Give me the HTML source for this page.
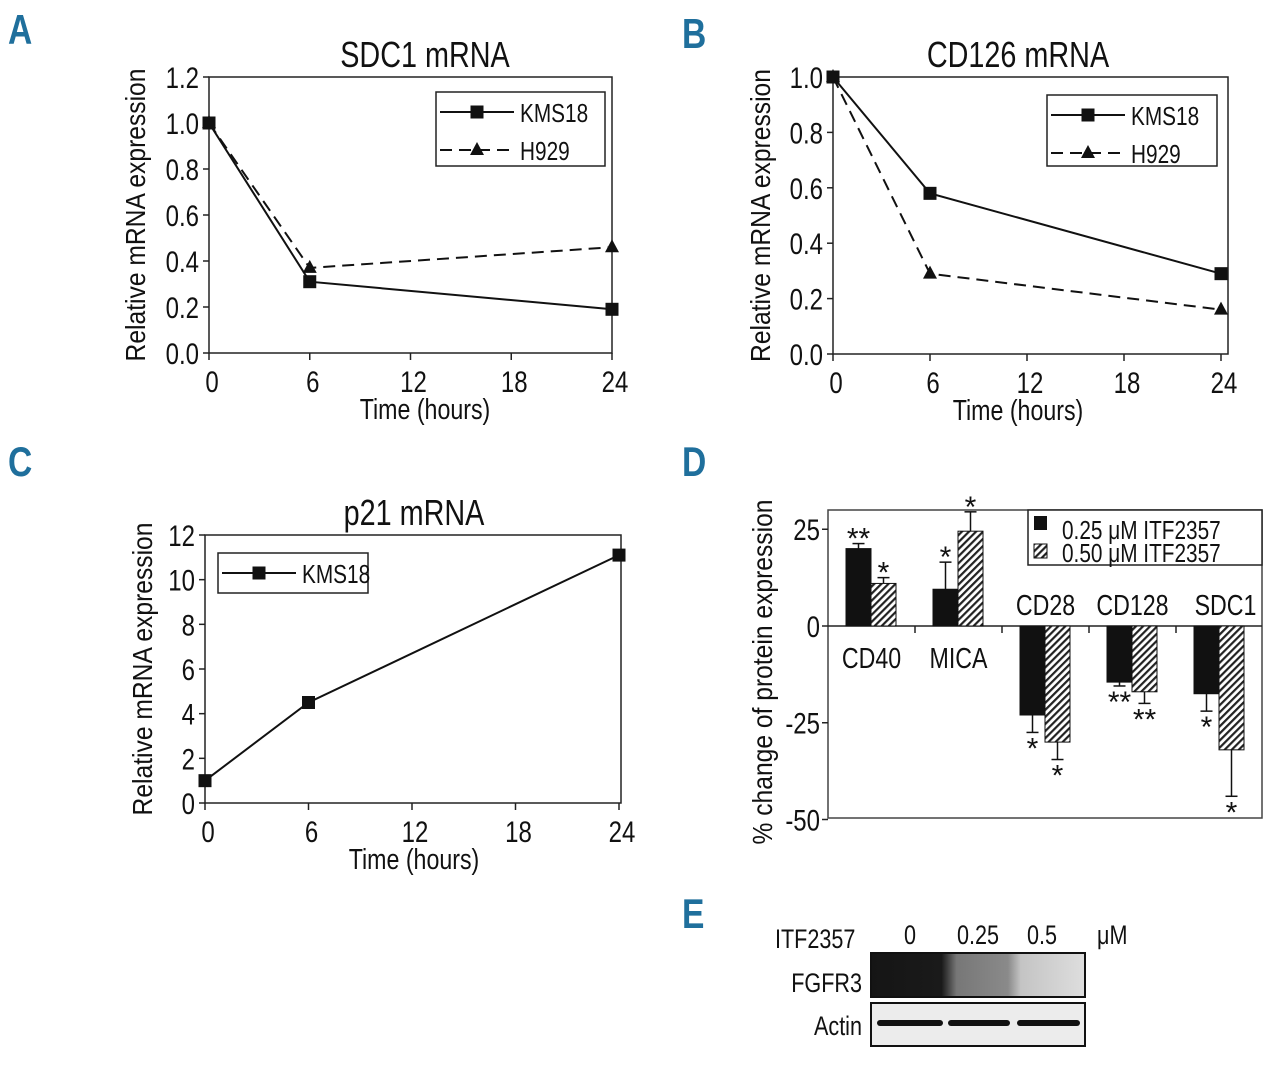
<!DOCTYPE html>
<html><head><meta charset="utf-8">
<style>
html,body{margin:0;padding:0;background:#fff;}
svg{display:block;font-family:"Liberation Sans",sans-serif;}
text{fill:#111;}
.lbl{fill:#1f6f9c;font-weight:bold;}
</style></head>
<body>
<svg id="fig" width="1280" height="1065" viewBox="0 0 1280 1065" xmlns="http://www.w3.org/2000/svg">
<defs>
<pattern id="hatch" patternUnits="userSpaceOnUse" width="5" height="5" patternTransform="rotate(45)">
<rect width="5" height="5" fill="#fff"/><rect width="2.2" height="5" fill="#222"/>
</pattern>
<linearGradient id="smear" x1="0" x2="1" y1="0" y2="0">
<stop offset="0" stop-color="#151515"/><stop offset="0.33" stop-color="#1a1a1a"/><stop offset="0.4" stop-color="#777"/><stop offset="0.64" stop-color="#8a8a8a"/><stop offset="0.7" stop-color="#c4c4c4"/><stop offset="1" stop-color="#dedede"/>
</linearGradient>
</defs>
<text class="lbl" x="8" y="44" font-size="42">A</text>
<text class="lbl" x="682" y="48" font-size="42">B</text>
<text class="lbl" x="8" y="476" font-size="42">C</text>
<text class="lbl" x="682" y="476" font-size="42">D</text>
<text class="lbl" x="682" y="928" font-size="42">E</text>
<g id="plots"></g>
<g>
<text x="775" y="948" font-size="27">ITF2357</text>
<text x="910" y="944" font-size="27" text-anchor="middle">0</text>
<text x="978" y="944" font-size="27" text-anchor="middle">0.25</text>
<text x="1042" y="944" font-size="27" text-anchor="middle">0.5</text>
<text x="1097" y="944" font-size="27">μM</text>
<text x="862" y="992" font-size="27" text-anchor="end">FGFR3</text>
<text x="862" y="1035" font-size="27" text-anchor="end">Actin</text>
<rect x="871" y="953" width="214" height="44" fill="url(#smear)" stroke="#111" stroke-width="2"/>
<rect x="871" y="1003" width="214" height="43" fill="#ececec" stroke="#111" stroke-width="2"/>
<rect x="877" y="1020" width="66" height="6" rx="3" fill="#111"/>
<rect x="948" y="1020" width="62" height="6" rx="3" fill="#111"/>
<rect x="1017" y="1020" width="63" height="6" rx="3" fill="#111"/>
</g>
</svg>
<script>
// ---- data ----
const timePoints = [0, 6, 24];
const xTicks = [0, 6, 12, 18, 24];
const sdc1Kms18 = [1.0, 0.31, 0.19];
const sdc1H929 = [1.0, 0.37, 0.46];
const cd126Kms18 = [1.0, 0.58, 0.29];
const cd126H929 = [1.0, 0.29, 0.16];
const p21Kms18 = [1.0, 4.5, 11.1];
const yTicksAB = ["0.0","0.2","0.4","0.6","0.8","1.0","1.2"];
const yTicksB = ["0.0","0.2","0.4","0.6","0.8","1.0"];
const yTicksC = [0,2,4,6,8,10,12];
const proteinCats = ["CD40","MICA","CD28","CD128","SDC1"];
const dose025 = [20, 9.5, -23, -14.5, -17.5];
const dose025Err = [1.3, 7, 4.5, 1, 4.5];
const dose050 = [11, 24.5, -30, -17, -32];
const dose050Err = [1.5, 5, 4.5, 3, 12];
const sig025 = ["**","*","*","**","*"];
const sig050 = ["*","*","*","**","*"];
const yTicksD = [25, 0, -25, -50];

const NS="http://www.w3.org/2000/svg";
const root=document.getElementById('plots');
function mk(tag,attrs,parent){const e=document.createElementNS(NS,tag);for(const k in attrs)e.setAttribute(k,attrs[k]);(parent||root).appendChild(e);return e;}
function txt(x,y,s,size,anchor,parent,rot){const t=mk('text',{x:x,y:y,'font-size':size,'text-anchor':anchor||'start'},parent);if(rot)t.setAttribute('data-rot','1');t.textContent=s;return t;}

function linePanel(cfg){
  const g=mk('g',{});
  
  
  const xs=v=>cfg.x0+(v-0)/24*(cfg.x1-cfg.x0);
  const ys=v=>cfg.y0-(v-cfg.ymin)/(cfg.ymax-cfg.ymin)*(cfg.y0-cfg.yTop);
  const frame=mk('rect',{x:cfg.x0,y:cfg.boxTop,width:cfg.boxRight-cfg.x0,height:cfg.y0-cfg.boxTop,fill:'none',stroke:'#222','stroke-width':1.5},g);
  
  
  const t=txt(cfg.titleX,cfg.boxTop-10,cfg.title,36,'middle',g);
  
  
  cfg.yTicks.forEach(v=>{
    const y=ys(+v);
    mk('line',{x1:cfg.x0-6,x2:cfg.x0,y1:y,y2:y,stroke:'#222','stroke-width':1.5},g);
    const tl=txt(cfg.x0-10,y+11,String(v),30,'end',g);
    
    
  });
  xTicks.forEach(v=>{
    const x=xs(v);
    mk('line',{x1:x,x2:x,y1:cfg.y0,y2:cfg.y0+7,stroke:'#222','stroke-width':1.5},g);
    const tl=txt(x+3,cfg.y0+39,String(v),30,'middle',g);
    
    
  });
  const xt=txt(cfg.titleX,cfg.y0+66,'Time (hours)',29,'middle',g);
  
  
  const yt=txt(cfg.yTitleX,(cfg.boxTop+cfg.y0)/2,'Relative mRNA expression',28,'middle',g,true);
  
  
  cfg.series.forEach(s=>{
    const pts=timePoints.map((t,i)=>xs(t)+','+ys(s.vals[i])).join(' ');
    const pl=mk('polyline',{points:pts,fill:'none',stroke:'#111','stroke-width':2,'stroke-dasharray':s.dash?'12,7':'none'},g);
    
    
    timePoints.forEach((t,i)=>{
      const x=xs(t),y=ys(s.vals[i]);
      let m;
      if(s.marker==='sq') m=mk('rect',{x:x-6.5,y:y-6.5,width:13,height:13,fill:'#111'},g);
      else m=mk('polygon',{points:`${x},${y-8} ${x-7},${y+5} ${x+7},${y+5}`,fill:'#111'},g);
      
      
    });
  });
  const L=cfg.legend;
  const lb=mk('rect',{x:L.x,y:L.y,width:L.w,height:L.h,fill:'#fff',stroke:'#222','stroke-width':1.5},g);
  
  
  cfg.series.forEach((s,i)=>{
    const y=L.y+20+i*38;
    mk('line',{x1:L.x+4,x2:L.x+78,y1:y,y2:y,stroke:'#111','stroke-width':2,'stroke-dasharray':s.dash?'12,7':'none'},g);
    const cx=L.x+41;
    if(s.marker==='sq') mk('rect',{x:cx-6.5,y:y-6.5,width:13,height:13,fill:'#111'},g);
    else mk('polygon',{points:`${cx},${y-8} ${cx-7},${y+5} ${cx+7},${y+5}`,fill:'#111'},g);
    const le=txt(L.x+84,y+10,s.label,26,'start',g);
    
    
  });
}

linePanel({name:'panel-a-sdc1',title:'SDC1 mRNA',titleX:425,x0:209,x1:612,boxRight:612,y0:353,yTop:77,boxTop:77,ymin:0,ymax:1.2,yTicks:yTicksAB,yTitleX:145,
  series:[{id:'kms18',vals:sdc1Kms18,marker:'sq',dash:false,label:'KMS18'},{id:'h929',vals:sdc1H929,marker:'tri',dash:true,label:'H929'}],
  legend:{x:436,y:92,w:169,h:74}});
linePanel({name:'panel-b-cd126',title:'CD126 mRNA',titleX:1018,x0:833,x1:1221,boxRight:1228,y0:354,yTop:77,boxTop:77,ymin:0,ymax:1.0,yTicks:yTicksB,yTitleX:770,
  series:[{id:'kms18',vals:cd126Kms18,marker:'sq',dash:false,label:'KMS18'},{id:'h929',vals:cd126H929,marker:'tri',dash:true,label:'H929'}],
  legend:{x:1047,y:95,w:170,h:71}});
linePanel({name:'panel-c-p21',title:'p21 mRNA',titleX:414,x0:205,x1:619,boxRight:621,y0:803,yTop:535,boxTop:535,ymin:0,ymax:12,yTicks:yTicksC,yTitleX:152,
  series:[{id:'kms18',vals:p21Kms18,marker:'sq',dash:false,label:'KMS18'}],
  legend:{x:218,y:553,w:150,h:40}});

(function(){
  const g=mk('g',{});
  
  
  const x0=828,x1=1262,top=510,bot=818;
  const ys=v=>626-v*3.87;
  const gw=87;
  const fr=mk('rect',{x:x0,y:top,width:x1-x0,height:bot-top,fill:'none',stroke:'#444','stroke-width':1.5},g);
  
  
  yTicksD.forEach(v=>{
    const y=ys(v);
    mk('line',{x1:x0-6,x2:x0,y1:y,y2:y,stroke:'#222','stroke-width':1.5},g);
    const tl=txt(x0-8,y+11,String(v),30,'end',g);
    
    
  });
  mk('line',{x1:x0,x2:x1,y1:ys(0),y2:ys(0),stroke:'#222','stroke-width':1.5},g);
  for(let i=1;i<proteinCats.length;i++){const x=x0+i*gw;mk('line',{x1:x,x2:x,y1:ys(0),y2:ys(0)+7,stroke:'#222','stroke-width':1.5},g);}
  const yt=txt(772,672,'% change of protein expression',28,'middle',g,true);
  
  
  proteinCats.forEach((c,i)=>{
    const gx=x0+i*gw+18;
    [[dose025,dose025Err,sig025,'#111'],[dose050,dose050Err,sig050,'url(#hatch)']].forEach((d,k)=>{
      const v=d[0][i],e=d[1][i];
      const bx=gx+k*25,bw=25;
      const y=Math.min(ys(0),ys(v)),h=Math.abs(ys(v)-ys(0));
      const b=mk('rect',{x:bx,y:y,width:bw,height:h,fill:d[3],stroke:'#111','stroke-width':1},g);
      
      
      const cx=bx+bw/2, ve=v+(v>=0?e:-e);
      mk('line',{x1:cx,x2:cx,y1:ys(v),y2:ys(ve),stroke:'#111','stroke-width':1.5},g);
      mk('line',{x1:cx-6,x2:cx+6,y1:ys(ve),y2:ys(ve),stroke:'#111','stroke-width':1.5},g);
      const sy=v>=0?ys(ve)+5:ys(ve)+26;
      const st=txt(cx,sy,d[2][i],30,'middle',g);
      
      
    });
    const above=dose025[i]<0;
    const cl=txt(x0+i*gw+gw/2+(i==4?6:0),above?615:668,c,29,'middle',g);
    
    
  });
  const lg=mk('rect',{x:1028,y:510,width:234,height:55,fill:'#fff',stroke:'#222','stroke-width':1.5},g);
  
  
  mk('rect',{x:1034,y:516,width:13,height:14,fill:'#111'},g);
  mk('rect',{x:1034,y:544,width:13,height:14,fill:'url(#hatch)',stroke:'#111','stroke-width':1},g);
  const l1=txt(1062,539,'0.25 μM ITF2357',26,'start',g);
  
  
  const l2=txt(1062,562,'0.50 μM ITF2357',26,'start',g);
  
  
})();

// condense all text horizontally (reference uses a condensed face)
document.querySelectorAll('#fig text').forEach(t=>{
  const x=+t.getAttribute('x'), y=+t.getAttribute('y');
  const isStar=/^\*+$/.test(t.textContent);
  if(t.getAttribute('data-rot')){
    const s=0.88;
    t.setAttribute('transform',`rotate(-90 ${x} ${y}) translate(${x} ${y}) scale(${s} 1) translate(${-x} ${-y})`);
  } else {
    const s=isStar?1:0.8;
    t.setAttribute('transform',`translate(${x} ${y}) scale(${s} 1) translate(${-x} ${-y})`);
  }
});
</script>
</body></html>
